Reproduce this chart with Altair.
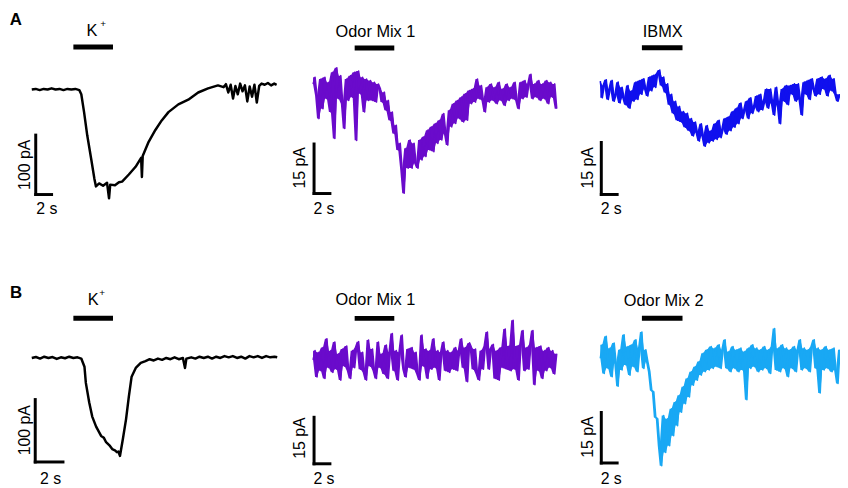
import altair as alt
import pandas as pd

FONT = "Liberation Sans"

# ---------------- data (time in s, current in pA) ----------------
A1_T = [0, 0.5, 1, 1.5, 2, 2.5, 3, 3.5, 4, 4.5, 5, 5.5, 6, 6.25, 6.6, 7, 7.5, 7.9, 8.1,
        8.5, 9, 9.5, 9.75, 9.9, 10.5, 11, 11.4, 12.25, 13.1, 13.8, 13.9, 14.0, 14.75,
        15.6, 16.4, 17.25, 18.5, 19.75, 21, 22.25, 23.5, 24.2, 24.5, 24.8, 25.1, 25.4,
        25.7, 26, 26.3, 26.6, 26.9, 27.2, 27.5, 27.8, 28.1, 28.4, 28.7, 29, 29.4, 29.8,
        30.2, 30.6, 30.9]
A1_I = [0, 1, -1, 1, 0, 2, 0, 1, -1, 1, 0, 1, -1, -8, -38, -77, -117, -150, -163,
        -158, -162, -157, -183, -160, -161, -156, -155, -143, -130, -115, -147, -112, -88,
        -68, -52, -38, -25, -17, -5, 2, 7, 4, 9, -5, 8, -15,
        6, -8, 10, -3, 7, -20, 5, -12, 8, -22, 6, 10, 8, 11,
        7, 10, 8]

B1_T = [0, 0.3, 0.6, 0.9, 1.2, 1.5, 1.8, 2.1, 2.4, 2.7, 3.0, 3.3, 3.57, 3.8, 3.9, 4.14,
        4.36, 4.64, 5.0, 5.2, 5.36, 5.6, 5.8, 6.0, 6.14, 6.25, 6.36, 6.57, 6.8, 7.0, 7.2,
        7.5, 7.86, 8.2, 8.5, 8.8, 9.1, 9.4, 9.7, 10, 10.3, 10.6, 10.9, 11.05, 11.15, 11.5,
        11.8, 12.1, 12.4, 12.7, 13, 13.3, 13.6, 13.9, 14.2, 14.5, 14.8, 15.1, 15.4, 15.7,
        16.0, 16.3, 16.6, 16.9, 17.2, 17.5, 17.7]
B1_I = [0, 1.5, -1, 2, 0, 1.5, -1.5, 1, -0.5, 2, 0, 1, -1, -14, -40, -71,
        -94, -110, -125, -128, -135, -140, -146, -148, -151, -150, -157, -130, -98, -62, -30,
        -16, -8, -5, -2, -4, -1, -3, 0, -2, 1, -2, 0, -16, -1, 1,
        -1, 2, 0, 2, -1, 2, 0, 3, 1, 3, 0, 2, -1, 3,
        1, 3, 0, 3, 1, 2, 1]

DT = 0.25  # sampling step of the noisy traces (s)
A2_I = [0.5, 2.5, -3.0, -10, 2.0, -7, 2.5, -4, 1.0, -8,
        4.0, -16, 5.4, -4, 3.0, -5.5, -13, 2.0, -4.5, 3.0,
        -3.5, 4.0, -16.6, 4.4, -2.5, 2.5, -8, 2.0, -4.5, 1.5,
        -4.5, 1.0, -5.0, 0.5, -1.0, -5.0, -2.0, -7.5, -4.5, -10.5,
        -8.0, -14.5, -12.0, -19.5, -17.5, -25.5, -32.6, -19.0, -25.0, -16.5,
        -25.0, -17.5, -23.5, -25.0, -16.5, -22.5, -15.5, -21.5, -13.5, -19.5,
        -12.5, -20.0, -11.5, -17.5, -10.5, -16.5, -8.5, -14.5, -18.0, -7.5,
        -12.5, -5.5, -11.5, -4.5, -10.0, -3.5, -11.0, -2.5, -10.5, -1.5,
        -5.5, -1.0, -5.0, 2.0, -4.0, 0.0, -4.5, -8.0, -0.5, -5.0,
        0.5, -4.5, -0.5, -5.5, 1.0, -4.5, -1.0, -6.0, 0.5, -4.5,
        -0.5, -4.0, 1.0, -4.5, -7.0, 1.0, -4.0, 1.5, -3.5, 0.5,
        3.4, -4.0, 0.5, -3.5, 1.5, -4.5, 0.5, -4.0, 1.5, -5.5,
        1.0, -3.5, 0.5, -7]
A3_I = [2.8, -2.0, 1.5, 3.2, -2.5, 0.5, 3.0, -3.0, -1.0, 2.5,
        -3.5, 1.0, -2.0, -4.0, 1.5, -5.0, 0.0, -3.0, 2.5, -2.5,
        3.0, -1.0, 3.5, 0.5, -1.5, 4.0, 0.0, 4.5, 1.0, 5.0,
        6.0, 1.5, 4.0, -0.5, 2.0, -4.0, -1.0, -6.5, -3.0, -8.5,
        -4.5, -9.0, -6.0, -10.5, -6.5, -11.5, -8.0, -13.0, -9.0, -12.0,
        -14.5, -9.5, -13.0, -16.0, -10.0, -15.0, -11.5, -14.5, -9.5, -14.0,
        -8.5, -13.5, -11.0, -8.0, -12.5, -7.5, -11.5, -6.0, -10.5, -5.0,
        -9.5, -3.5, -8.0, -5.5, -3.0, -8.0, -2.0, -6.5, -4.5, -1.5,
        -6.0, -1.0, -5.5, -3.0, 0.5, -5.0, 0.5, -3.5, -7.0, 1.0,
        -4.0, -9.5, 0.5, -3.0, 1.5, -4.0, 1.5, -1.0, 2.0, -3.0,
        2.0, -2.5, -7.0, 2.5, -1.0, 3.0, -2.5, 3.5, 0.5, -1.5,
        3.5, -1.0, 4.0, 0.5, 3.5, -1.5, 4.5, 0.0, 3.5, -1.0,
        -3.0, -1.0]
B2_I = [0, 3.0, -5.5, 2.5, -3.5, 4.0, -6.0, 6.8, -2.5, 3.0,
        -4.0, 5.8, -3.0, 2.0, -6.5, 3.5, -2.0, 4.5, -3.5, -6.0,
        3.0, -2.5, 4.0, 5.9, -3.0, 2.5, -4.0, -6.5, 6.4, -2.0,
        3.5, -3.5, -6.0, 5.8, -2.5, 2.0, -4.5, 4.8, -6.0, 2.5,
        8.5, -3.5, 3.0, -6.5, 2.5, 8.0, -3.0, -5.5, 3.5, -2.5,
        4.0, -3.0, 2.5, -4.5, -6.5, 8.0, -2.0, 3.5, -6.0, 3.0,
        -3.0, 6.8, -2.5, 3.0, -6.5, 2.5, 5.8, -3.5, 3.0, -4.0,
        2.5, -3.0, 4.0, -3.5, 3.0, 6.8, -2.5, 4.0, -7.0, 5.5,
        4.0, -3.0, 3.5, -4.5, -6.5, 3.0, -3.0, 4.5, 9.0, -3.0,
        3.5, 5.0, -6.0, 3.0, -6.5, 4.0, -2.5, 10.0, -3.0, 4.5,
        -3.5, 12.8, -3.0, 4.5, -6.5, 5.0, 9.5, -3.5, 4.0, -3.0,
        5.0, 9.5, -8.0, 4.0, -3.5, 4.5, -6.0, 3.0, -3.5, 4.0,
        -2.5, 3.0, -4.5, 2.0]
B3_I = [0, 4.0, -4.5, 6.5, -3.0, 3.0, -5.5, 4.5, -1.5, -8.3,
        2.5, -3.5, 7.0, -2.0, 3.5, -5.0, 4.0, -2.5, 5.5, -4.0,
        3.0, 7.8, -3.0, 2.5, -1.0, -4.0, -9.5, -10.0, -17.5, -18.0,
        -26.0, -31.9, -17.0, -28.0, -18.0, -26.0, -15.0, -23.0, -13.0, -20.0,
        -11.0, -16.0, -8.5, -13.5, -6.0, -11.5, -4.0, -8.0, -2.5, -6.5,
        -1.0, -5.0, 1.5, -4.0, 2.5, -3.5, 3.5, -3.0, 3.0, -2.5,
        4.0, -3.0, 2.5, 5.5, -3.0, 2.0, -4.0, 3.5, -3.0, 2.5,
        -4.0, 3.0, -3.5, 2.0, -12.3, 3.0, -3.0, 4.0, -2.5, 3.0,
        -4.0, 2.5, -3.5, 3.5, -3.0, 2.5, -4.5, 3.5, 8.8, -3.5,
        3.0, -4.0, 4.0, -3.0, 3.0, -5.5, 2.5, -3.0, 3.5, -4.0,
        2.5, 5.5, -3.5, 3.0, -3.0, 2.5, -4.0, 3.5, 5.5, -3.0,
        3.0, -10.3, 2.5, -3.5, 3.5, -3.0, 2.5, -4.0, 3.0, -3.5,
        -7.5, 2.5]

COLORS = {"A1": "#000000", "A2": "#6A0BCB", "A3": "#1010EE",
          "B1": "#000000", "B2": "#6A0BCB", "B3": "#19A8F4"}
STIM_NAMES = {"A2": "Odor Mix 1", "A3": "IBMX", "B2": "Odor Mix 1", "B3": "Odor Mix 2"}
# stimulus bars: (start s, end s, level)
STIM = {"A1": (5.25, 10.25, 71.7), "A2": (5.25, 10.25, 11.4), "A3": (5.25, 10.375, 12.4),
        "B1": (3.0, 5.857, 63.5), "B2": (5.25, 10.25, 13.4), "B3": (5.25, 10.375, 11.9)}
# stimulus label positions (s, level)
STIM_LAB = {"A1": (7.6, 98.3), "A2": (7.875, 16.2), "A3": (7.875, 16.9),
            "B1": (4.43, 92.0), "B2": (7.875, 19.2), "B3": (8.0, 17.1)}
PLUS_LAB = {"A1": (9.0, 110.0), "B1": (5.07, 104.8)}
# scale bars: corner (s, pA), 2 s horizontal, amplitude vertical
BAR = {"A1": (0.5, -176.7, 100), "A2": (0.125, -32.7, 15), "A3": (0.125, -29.9, 15),
       "B1": (0.25, -166.7, 100), "B2": (0.125, -33.5, 15), "B3": (0.125, -31.1, 15)}
BAR_SEC = 2
TIME_LAB = {"A1": (1.9, -201.7), "A2": (1.375, -37.5), "A3": (1.375, -34.2),
            "B1": (1.36, -193.7), "B2": (1.375, -38.3), "B3": (1.375, -35.8)}
AMP_LAB = {"A1": (-0.875, -126.7), "A2": (-1.6, -24.9), "A3": (-1.6, -22.2),
           "B1": (-0.5, -115.9), "B2": (-1.6, -25.2), "B3": (-1.6, -23.4)}
LETTER = {"A1": ("A", -2.0, 116.7), "B1": ("B", -1.14, 104.8)}

# ---------------- layout (pixels per unit and panel boxes) ----------------
def dom(x_lo_px, x_hi_px, x0_px, pps, y_top_px, y_bot_px, y0_px, ppu):
    return ([(x_lo_px - x0_px) / pps, (x_hi_px - x0_px) / pps],
            [(y0_px - y_bot_px) / ppu, (y0_px - y_top_px) / ppu])

COLS = [(8, 290), (290, 580), (580, 848)]
ROWS = [(8, 248), (248, 488)]
CAL = {"A1": (32, 8, 87, 0.6), "A2": (316, 8, 83, 3.333), "A3": (606, 8, 88.3, 3.5),
       "B1": (32, 14, 358, 0.63), "B2": (316, 8, 360, 3.13), "B3": (606, 8, 358.3, 3.4)}


def trace_df(key):
    if key == "A1":
        return pd.DataFrame({"t": A1_T, "i": A1_I})
    if key == "B1":
        return pd.DataFrame({"t": B1_T, "i": B1_I})
    vals = {"A2": A2_I, "A3": A3_I, "B2": B2_I, "B3": B3_I}[key]
    return pd.DataFrame({"t": [k * DT for k in range(len(vals))], "i": vals})


def panel(key, r, c):
    x0, pps, y0, ppu = CAL[key]
    xd, yd = dom(COLS[c][0], COLS[c][1], x0, pps, ROWS[r][0], ROWS[r][1], y0, ppu)
    w = COLS[c][1] - COLS[c][0]
    h = ROWS[r][1] - ROWS[r][0]
    xs = alt.Scale(domain=xd, nice=False, zero=False)
    ys = alt.Scale(domain=yd, nice=False, zero=False)
    X = alt.X("t:Q", scale=xs, axis=None)
    Y = alt.Y("i:Q", scale=ys, axis=None)

    noisy = key not in ("A1", "B1")
    sw = 2.5 if not noisy else 1.6
    layers = []
    base = alt.Chart(trace_df(key))
    if noisy:
        # fill between each sample and the next one (dense recording noise)
        layers.append(base.transform_window(
            lo="min(i)", hi="max(i)", frame=[0, 1], sort=[alt.SortField("t")]
        ).mark_area(color=COLORS[key], clip=True).encode(
            x=X, y=alt.Y("lo:Q", scale=ys, axis=None), y2="hi:Q"))
    layers.append(base.mark_line(
        color=COLORS[key], strokeWidth=sw, clip=True, strokeJoin="round"
    ).encode(x=X, y=Y))

    s0, s1, sl = STIM[key]
    layers.append(alt.Chart(pd.DataFrame({"t": [s0], "t2": [s1], "i": [sl]})).mark_rule(
        color="black", strokeWidth=5).encode(x=X, x2="t2:Q", y=Y))

    bt, bi, amp = BAR[key]
    bar_df = pd.DataFrame({"t": [bt, bt], "t2": [bt, bt + BAR_SEC],
                           "i": [bi + amp, bi], "i2": [bi, bi]})
    layers.append(alt.Chart(bar_df).mark_rule(
        color="black", strokeWidth=3, strokeCap="square").encode(
        x=X, x2="t2:Q", y=Y, y2="i2:Q"))

    stim_txt = "K" if key in ("A1", "B1") else STIM_NAMES[key]
    lt, li = STIM_LAB[key]
    layers.append(alt.Chart(pd.DataFrame({"t": [lt], "i": [li], "text": [stim_txt]})).mark_text(
        font=FONT, fontSize=16.5, color="black", align="center", baseline="middle"
    ).encode(x=X, y=Y, text="text:N"))

    tt, ti = TIME_LAB[key]
    layers.append(alt.Chart(pd.DataFrame({"t": [tt], "i": [ti], "text": [f"{BAR_SEC} s"]})).mark_text(
        font=FONT, fontSize=16, color="black", align="center", baseline="middle"
    ).encode(x=X, y=Y, text="text:N"))

    at, ai = AMP_LAB[key]
    layers.append(alt.Chart(pd.DataFrame({"t": [at], "i": [ai], "text": [f"{amp} pA"]})).mark_text(
        font=FONT, fontSize=16, color="black", align="center", baseline="middle", angle=270
    ).encode(x=X, y=Y, text="text:N"))

    if key in PLUS_LAB:
        pt, pi = PLUS_LAB[key]
        layers.append(alt.Chart(pd.DataFrame({"t": [pt], "i": [pi], "text": ["+"]})).mark_text(
            font=FONT, fontSize=10, color="black", align="center", baseline="middle"
        ).encode(x=X, y=Y, text="text:N"))

    if key in LETTER:
        txt, lt2, li2 = LETTER[key]
        layers.append(alt.Chart(pd.DataFrame({"t": [lt2], "i": [li2], "text": [txt]})).mark_text(
            font=FONT, fontSize=17, fontWeight="bold", color="black",
            align="center", baseline="middle"
        ).encode(x=X, y=Y, text="text:N"))

    return alt.layer(*layers).properties(width=w, height=h)


panels = [panel("A1", 0, 0), panel("A2", 0, 1), panel("A3", 0, 2),
          panel("B1", 1, 0), panel("B2", 1, 1), panel("B3", 1, 2)]
chart = alt.concat(*panels, columns=3, spacing=0, bounds="flush").properties(
    padding=0, background="white"
).configure_view(stroke=None)

chart.save("out.html", embed_options={"renderer": "svg", "actions": False})
